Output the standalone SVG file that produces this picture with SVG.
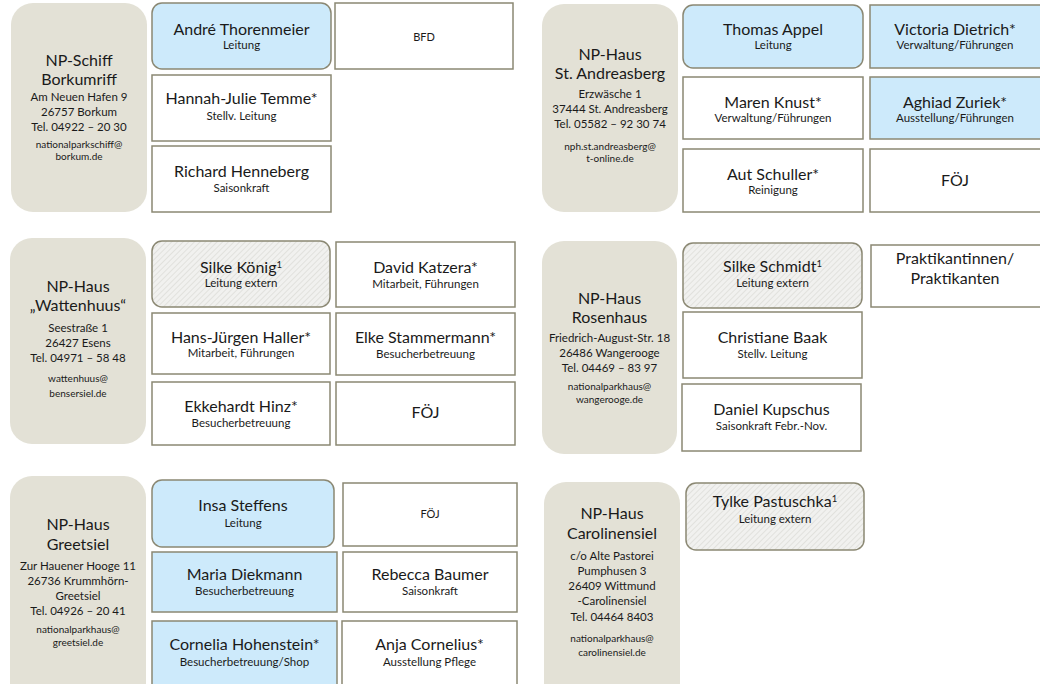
<svg xmlns="http://www.w3.org/2000/svg" width="1040" height="684" viewBox="0 0 1040 684">
<style>
.loc{fill:#e3e1d6;}
.p{fill:#ffffff;stroke:#8b8873;stroke-width:1.5;}
.b{fill:#cdeafb;stroke:#8b8873;stroke-width:1.5;}
.h{fill:url(#hatch);stroke:#8b8873;stroke-width:1.5;}
text{font-family:Lato,"Liberation Sans",sans-serif;fill:#1a1a1a;text-anchor:middle;}
.t{font-size:16px;}
.a{font-size:11.5px;}
.e{font-size:10px;}
.n{font-size:16px;}
.r{font-size:11.5px;}
.s{font-size:11px;}
</style>
<defs>
<pattern id="hatch" patternUnits="userSpaceOnUse" width="4" height="4" patternTransform="rotate(45)">
<rect width="4" height="4" fill="#f1f1ef"/>
<line x1="0" y1="0" x2="0" y2="4" stroke="#d6d6d2" stroke-width="1.2"/>
</pattern>
</defs>
<g id="connectors"/>

<!-- Borkumriff -->
<g id="loc-borkumriff">
<rect class="loc" x="11" y="3" width="136" height="209" rx="22"/>
<text class="t" x="79" y="66">NP-Schiff</text>
<text class="t" x="79" y="85">Borkumriff</text>
<text class="a" x="79" y="101">Am Neuen Hafen 9</text>
<text class="a" x="79" y="116">26757 Borkum</text>
<text class="a" x="79" y="131">Tel. 04922 – 20 30</text>
<text class="e" x="79" y="148">nationalparkschiff@</text>
<text class="e" x="79" y="160">borkum.de</text>
</g>
<g id="p-thorenmeier"><rect class="b" x="152" y="3" width="179" height="66" rx="10"/>
<text class="n" x="241.5" y="35">André Thorenmeier</text><text class="r" x="241.5" y="49">Leitung</text></g>
<g id="p-bfd"><rect class="p" x="335" y="3" width="178" height="66"/>
<text class="s" x="424" y="41">BFD</text></g>
<g id="p-temme"><rect class="p" x="152" y="75" width="179" height="66"/>
<text class="n" x="241.5" y="104">Hannah-Julie Temme*</text><text class="r" x="241.5" y="120">Stellv. Leitung</text></g>
<g id="p-henneberg"><rect class="p" x="152" y="146" width="179" height="66"/>
<text class="n" x="241.5" y="177">Richard Henneberg</text><text class="r" x="241.5" y="192">Saisonkraft</text></g>

<!-- St. Andreasberg -->
<g id="loc-andreasberg">
<rect class="loc" x="542" y="4" width="136" height="208" rx="22"/>
<text class="t" x="610" y="60">NP-Haus</text>
<text class="t" x="610" y="79">St. Andreasberg</text>
<text class="a" x="610" y="98">Erzwäsche 1</text>
<text class="a" x="610" y="113">37444 St. Andreasberg</text>
<text class="a" x="610" y="128">Tel. 05582 – 92 30 74</text>
<text class="e" x="610" y="150">nph.st.andreasberg@</text>
<text class="e" x="610" y="162">t-online.de</text>
</g>
<g id="p-appel"><rect class="b" x="683" y="5" width="180" height="63" rx="10"/>
<text class="n" x="773" y="35">Thomas Appel</text><text class="r" x="773" y="49">Leitung</text></g>
<g id="p-dietrich"><rect class="b" x="870" y="5" width="176" height="63"/>
<text class="n" x="955" y="35">Victoria Dietrich*</text><text class="r" x="955" y="49">Verwaltung/Führungen</text></g>
<g id="p-knust"><rect class="p" x="683" y="77" width="180" height="62"/>
<text class="n" x="773" y="108">Maren Knust*</text><text class="r" x="773" y="122">Verwaltung/Führungen</text></g>
<g id="p-zuriek"><rect class="b" x="870" y="77" width="176" height="62"/>
<text class="n" x="955" y="108">Aghiad Zuriek*</text><text class="r" x="955" y="122">Ausstellung/Führungen</text></g>
<g id="p-schuller"><rect class="p" x="683" y="149" width="180" height="63"/>
<text class="n" x="773" y="180">Aut Schuller*</text><text class="r" x="773" y="194">Reinigung</text></g>
<g id="p-foej1"><rect class="p" x="870" y="149" width="176" height="63"/>
<text class="n" x="955" y="186">FÖJ</text></g>

<!-- Wattenhuus -->
<g id="loc-wattenhuus">
<rect class="loc" x="10" y="238" width="136" height="206" rx="22"/>
<text class="t" x="78" y="292">NP-Haus</text>
<text class="t" x="78" y="311">„Wattenhuus“</text>
<text class="a" x="78" y="332">Seestraße 1</text>
<text class="a" x="78" y="347">26427 Esens</text>
<text class="a" x="78" y="362">Tel. 04971 – 58 48</text>
<text class="e" x="78" y="382">wattenhuus@</text>
<text class="e" x="78" y="397">bensersiel.de</text>
</g>
<g id="p-koenig"><rect class="h" x="152" y="241" width="178" height="66" rx="10"/>
<text class="n" x="241" y="273">Silke König<tspan font-size="9.5" dy="-5">1</tspan></text><text class="r" x="241" y="287">Leitung extern</text></g>
<g id="p-katzera"><rect class="p" x="336" y="242" width="179" height="65"/>
<text class="n" x="425.5" y="273">David Katzera*</text><text class="r" x="425.5" y="288">Mitarbeit, Führungen</text></g>
<g id="p-haller"><rect class="p" x="152" y="313" width="178" height="61"/>
<text class="n" x="241" y="343">Hans-Jürgen Haller*</text><text class="r" x="241" y="357">Mitarbeit, Führungen</text></g>
<g id="p-stammermann"><rect class="p" x="336" y="313" width="179" height="62"/>
<text class="n" x="425.5" y="343">Elke Stammermann*</text><text class="r" x="425.5" y="358">Besucherbetreuung</text></g>
<g id="p-hinz"><rect class="p" x="152" y="382" width="178" height="63"/>
<text class="n" x="241" y="412">Ekkehardt Hinz*</text><text class="r" x="241" y="427">Besucherbetreuung</text></g>
<g id="p-foej2"><rect class="p" x="336" y="382" width="179" height="63"/>
<text class="n" x="425.5" y="418">FÖJ</text></g>

<!-- Rosenhaus -->
<g id="loc-rosenhaus">
<rect class="loc" x="542" y="241" width="135" height="213" rx="22"/>
<text class="t" x="609.5" y="304">NP-Haus</text>
<text class="t" x="609.5" y="323">Rosenhaus</text>
<text class="a" x="609.5" y="342">Friedrich-August-Str. 18</text>
<text class="a" x="609.5" y="357">26486 Wangerooge</text>
<text class="a" x="609.5" y="372">Tel. 04469 – 83 97</text>
<text class="e" x="609.5" y="390">nationalparkhaus@</text>
<text class="e" x="609.5" y="403">wangerooge.de</text>
</g>
<g id="p-schmidt"><rect class="h" x="683" y="243" width="179" height="65" rx="10"/>
<text class="n" x="772.5" y="272">Silke Schmidt<tspan font-size="9.5" dy="-5">1</tspan></text><text class="r" x="772.5" y="287">Leitung extern</text></g>
<g id="p-praktikanten"><rect class="p" x="871" y="245" width="175" height="62"/>
<text class="n" x="955" y="264">Praktikantinnen/</text><text class="n" x="955" y="284">Praktikanten</text></g>
<g id="p-baak"><rect class="p" x="683" y="312" width="179" height="66"/>
<text class="n" x="772.5" y="343">Christiane Baak</text><text class="r" x="772.5" y="358">Stellv. Leitung</text></g>
<g id="p-kupschus"><rect class="p" x="682" y="384" width="179" height="67"/>
<text class="n" x="771.5" y="415">Daniel Kupschus</text><text class="r" x="771.5" y="430">Saisonkraft Febr.-Nov.</text></g>

<!-- Greetsiel -->
<g id="loc-greetsiel">
<rect class="loc" x="10" y="476" width="136" height="230" rx="22"/>
<text class="t" x="78" y="530">NP-Haus</text>
<text class="t" x="78" y="550">Greetsiel</text>
<text class="a" x="78" y="570">Zur Hauener Hooge 11</text>
<text class="a" x="78" y="585">26736 Krummhörn-</text>
<text class="a" x="78" y="600">Greetsiel</text>
<text class="a" x="78" y="615">Tel. 04926 – 20 41</text>
<text class="e" x="78" y="633">nationalparkhaus@</text>
<text class="e" x="78" y="646">greetsiel.de</text>
</g>
<g id="p-steffens"><rect class="b" x="152" y="480" width="182" height="67" rx="10"/>
<text class="n" x="243" y="511">Insa Steffens</text><text class="r" x="243" y="527">Leitung</text></g>
<g id="p-foej3"><rect class="p" x="343" y="483" width="174" height="63"/>
<text class="s" x="430" y="518">FÖJ</text></g>
<g id="p-diekmann"><rect class="b" x="152" y="552" width="185" height="60"/>
<text class="n" x="244.5" y="580">Maria Diekmann</text><text class="r" x="244.5" y="595">Besucherbetreuung</text></g>
<g id="p-baumer"><rect class="p" x="343" y="552" width="174" height="60"/>
<text class="n" x="430" y="580">Rebecca Baumer</text><text class="r" x="430" y="595">Saisonkraft</text></g>
<g id="p-hohenstein"><rect class="b" x="152" y="621" width="185" height="80"/>
<text class="n" x="244.5" y="650">Cornelia Hohenstein*</text><text class="r" x="244.5" y="666">Besucherbetreuung/Shop</text></g>
<g id="p-cornelius"><rect class="p" x="342" y="621" width="175" height="80"/>
<text class="n" x="429.5" y="650">Anja Cornelius*</text><text class="r" x="429.5" y="666">Ausstellung Pflege</text></g>

<!-- Carolinensiel -->
<g id="loc-carolinensiel">
<rect class="loc" x="544" y="482" width="136" height="230" rx="22"/>
<text class="t" x="612" y="519">NP-Haus</text>
<text class="t" x="612" y="539">Carolinensiel</text>
<text class="a" x="612" y="560">c/o Alte Pastorei</text>
<text class="a" x="612" y="575">Pumphusen 3</text>
<text class="a" x="612" y="590">26409 Wittmund</text>
<text class="a" x="612" y="605">-Carolinensiel</text>
<text class="a" x="612" y="621">Tel. 04464 8403</text>
<text class="e" x="612" y="642">nationalparkhaus@</text>
<text class="e" x="612" y="656">carolinensiel.de</text>
</g>
<g id="p-pastuschka"><rect class="h" x="686" y="483" width="178" height="67" rx="10"/>
<text class="n" x="775" y="507">Tylke Pastuschka<tspan font-size="9.5" dy="-5">1</tspan></text><text class="r" x="775" y="523">Leitung extern</text></g>
</svg>
